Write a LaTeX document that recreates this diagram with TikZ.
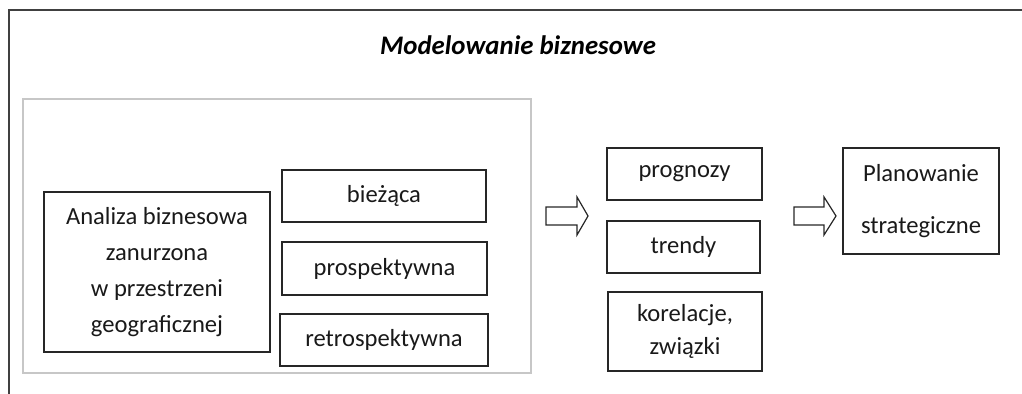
\documentclass[tikz,border=0pt]{standalone}
\usepackage{fontspec}
\setmainfont{Carlito}
\usetikzlibrary{positioning}

\tikzset{
  blok/.style={draw=black!85, line width=0.6pt, align=center, inner sep=0pt,
    font=\fontsize{12.3}{18}\selectfont, text=black!90},
  strzalka/.style={draw=black!85, line width=0.6pt, line join=miter}
}

\begin{document}
\begin{tikzpicture}[x=0.5pt, y=-0.5pt]
    \useasboundingbox (0,0) rectangle (1022,394);

    % Rama
    \draw[black!75, line width=0.6pt] (1022,10) -- (9,10) -- (9,394);
    \node[font=\fontsize{13.4}{15}\selectfont\bfseries\itshape] (tytul) at (518,45) {Modelowanie biznesowe};

    % Analiza
    \draw[black!22, line width=0.8pt] (23,99) rectangle (531,373);
    \node[blok, minimum width=113pt, minimum height=80pt] (analiza) at (157,272)
        {Analiza biznesowa\\zanurzona\\w przestrzeni\\geograficznej};
    \node[blok, minimum width=102pt, minimum height=26pt] (biez) at (384,196) {bieżąca};
    \node[blok, minimum width=102.5pt, minimum height=26.5pt] (prosp) at (384.5,268.5) {prospektywna};
    \node[blok, minimum width=104pt, minimum height=26pt] (retro) at (384,340) {retrospektywna};

    % Wyniki
    \node[blok, minimum width=77.5pt, minimum height=26pt] (prog) at (684.5,174) {prognozy};
    \node[blok, minimum width=76.5pt, minimum height=26pt] (trendy) at (683.5,247) {trendy};
    \node[blok, minimum width=77pt, minimum height=39.5pt, font=\fontsize{12.3}{16.5}\selectfont] (korel) at (685,331.5) {korelacje,\\związki};
    \node[blok, minimum width=78pt, minimum height=53pt, font=\fontsize{12.3}{26}\selectfont] (plan) at (921,201) {Planowanie\\strategiczne};

    % Strzalki
    \draw[strzalka] (546,207) -- (577,207) -- (577,197) -- (588,216) -- (577,235) -- (577,225) -- (546,225) -- cycle;
    \draw[strzalka] (794,207) -- (824,207) -- (824,197) -- (836,216) -- (824,235) -- (824,225) -- (794,225) -- cycle;
\end{tikzpicture}
\end{document}
